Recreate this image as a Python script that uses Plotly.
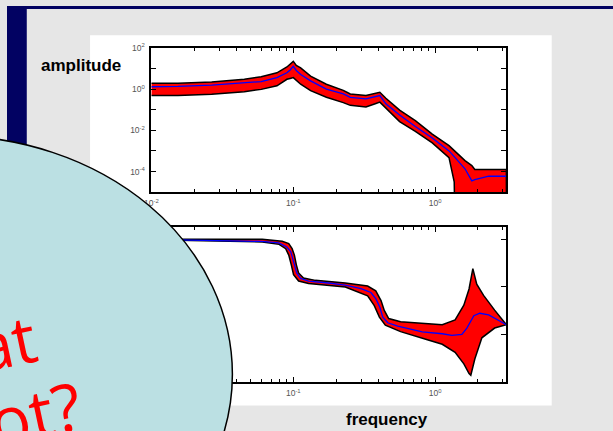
import plotly.graph_objects as go

W, H = 613, 431

# ---- amplitude response: mean and uncertainty envelope ----
amp_freq = [0.01, 0.0154, 0.0266, 0.0452, 0.0594, 0.0767, 0.0902, 0.095, 0.1, 0.105,
            0.1127, 0.1324, 0.171, 0.225, 0.252, 0.325, 0.382, 0.407, 0.449, 0.561,
            0.724, 0.953, 1.25, 1.31, 1.36, 1.38, 1.62, 1.81, 1.9, 2.03, 2.38, 3.17]
amp_mean = [1.3, 1.35, 1.55, 1.92, 2.32, 3.6, 6.2, 8.5, 12.8, 8.0,
            5.1, 2.5, 1.0, 0.59, 0.40, 0.336, 0.436, 0.486, 0.194, 0.055,
            0.0153, 0.00427, 0.001, 7.2e-4, 5.5e-4, 4.7e-4, 1.36e-4, 3.5e-5, 4.0e-5, 4.6e-5, 5.9e-5, 5.9e-5]
amp_upper = [1.92, 1.92, 2.24, 2.98, 4.0, 6.2, 11.9, 16.0, 22.2, 14.0,
             10.7, 4.3, 1.73, 0.87, 0.58, 0.49, 0.63, 0.70, 0.36, 0.095,
             0.0295, 0.0066, 0.0018, 1.3e-3, 1.05e-3, 9.5e-4, 3.4e-4, 1.95e-4, 1.25e-4, 1.25e-4, 1.25e-4, 1.25e-4]
amp_lower = [0.49, 0.49, 0.56, 0.75, 0.97, 1.45, 3.0, 3.3, 3.6, 2.6,
             1.73, 0.84, 0.40, 0.22, 0.163, 0.136, 0.2, 0.234, 0.113, 0.0264,
             0.0089, 0.00245, 4.7e-4, 1.1e-4, 3.2e-5, 1e-7, 1e-7, 1e-7, 1e-7, 1e-7, 1e-7, 1e-7]

# ---- phase response (degrees) ----
ph_freq = [0.01, 0.0356, 0.06, 0.079, 0.09, 0.096, 0.099, 0.1024, 0.1057, 0.1127,
           0.128, 0.177, 0.232, 0.30, 0.352, 0.382, 0.407, 0.427, 0.463, 0.544,
           0.67, 0.81, 1.12, 1.31, 1.54, 1.67, 1.87, 2.06, 2.38, 2.79, 3.17]
ph_mean = [-1, -5, -9.5, -16, -33, -53, -81, -108, -142, -165,
           -176, -184, -193, -208, -224, -251, -286, -327, -351, -365,
           -377, -389, -397, -404, -400, -373, -321, -311, -318, -339, -359]

ph_up_freq = [0.01, 0.0605, 0.0835, 0.0929, 0.0981, 0.1018, 0.1051, 0.109, 0.118, 0.143,
              0.2325, 0.334, 0.381, 0.415, 0.4375, 0.47, 0.57, 0.88, 1.12, 1.38,
              1.59, 1.73, 1.84, 1.96, 2.19, 2.62, 3.17]
ph_upper = [0, -1, -9, -19, -40, -67, -108, -142, -163, -173,
            -184, -197, -217, -258, -299, -333, -347, -356, -359, -339,
            -277, -209, -124, -189, -236, -298, -359]

ph_lo_freq = [0.01, 0.0605, 0.0794, 0.0884, 0.0929, 0.0968, 0.1004, 0.109, 0.128, 0.2325,
              0.334, 0.372, 0.404, 0.445, 0.57, 0.88, 1.12, 1.38, 1.59, 1.73,
              1.78, 1.90, 2.13, 2.62, 3.17]
ph_lower = [-3, -12, -22, -40, -67, -108, -149, -176, -186, -201,
            -238, -279, -327, -361, -388, -422, -441, -475, -523, -564,
            -571, -503, -414, -373, -359]

# ---- tick definitions ----
x_ticks = [0.01, 0.1, 1]
x_ticktext = ["10<sup>-2</sup>", "10<sup>-1</sup>", "10<sup>0</sup>"]
amp_ticks = [1e2, 1e1, 1e0, 1e-1, 1e-2, 1e-3, 1e-4]
amp_ticktext = ["10<sup>2</sup>", " ", "10<sup>0</sup>", " ", "10<sup>-2</sup>", " ", "10<sup>-4</sup>"]
ph_ticks = [0, -200, -400, -600]
ph_ticktext = ["0", "-200", "-400", "-600"]

minor_x = [m * 10.0 ** e for e in (-2, -1, 0) for m in range(2, 10) if m * 10.0 ** e < 3.16]


def px(x):
    return x / W


def py(y):
    return 1 - y / H


fig = go.Figure()

# envelope polygons (upper edge out, lower edge back)
fig.add_trace(go.Scatter(
    x=amp_freq + amp_freq[::-1], y=amp_upper + amp_lower[::-1],
    fill="toself", fillcolor="#ff0000", mode="lines",
    line=dict(color="black", width=1.5), xaxis="x", yaxis="y"))
fig.add_trace(go.Scatter(
    x=amp_freq, y=amp_mean, mode="lines",
    line=dict(color="#0000ff", width=1.3), xaxis="x", yaxis="y"))

fig.add_trace(go.Scatter(
    x=ph_up_freq + ph_lo_freq[::-1], y=ph_upper + ph_lower[::-1],
    fill="toself", fillcolor="#ff0000", mode="lines",
    line=dict(color="black", width=1.5), xaxis="x2", yaxis="y2"))
fig.add_trace(go.Scatter(
    x=ph_freq, y=ph_mean, mode="lines",
    line=dict(color="#0000ff", width=1.3), xaxis="x2", yaxis="y2"))

tick_font = dict(family="Arial, Liberation Sans", size=8.5, color="#555555")
common = dict(showline=True, linecolor="black", linewidth=1.5, mirror="ticks",
              ticks="inside", ticklen=5, tickwidth=1, tickcolor="black",
              showgrid=False, zeroline=False, tickfont=tick_font)

x_dom = [px(146), px(505)]
xaxis_common = dict(type="log", range=[-2, 0.5], tickmode="array",
                    tickvals=x_ticks, ticktext=x_ticktext,
                    minor=dict(tickmode="array", tickvals=minor_x, ticks="inside",
                               ticklen=3, tickcolor="black", showgrid=False),
                    ticklabelstandoff=2, **common)

fig.update_layout(
    width=W, height=H,
    margin=dict(l=0, r=0, t=0, b=0),
    paper_bgcolor="#e6e6e6", plot_bgcolor="white",
    showlegend=False, hovermode=False,
    xaxis=dict(domain=x_dom, anchor="y", **xaxis_common),
    yaxis=dict(domain=[py(191), py(43)], anchor="x", type="log", range=[-5, 2],
               tickmode="array", tickvals=amp_ticks, ticktext=amp_ticktext,
               ticklabelstandoff=3, **common),
    xaxis2=dict(domain=x_dom, anchor="y2", **xaxis_common),
    yaxis2=dict(domain=[py(386), py(227)], anchor="x2", range=[-600, 50],
                tickmode="array", tickvals=ph_ticks, ticktext=ph_ticktext,
                ticklabelstandoff=3, **common),
)

# slide background: navy frame, white panel, callout ellipse
fig.add_shape(type="rect", xref="paper", yref="paper", x0=0, x1=px(20), y0=0, y1=1,
              fillcolor="#020262", line=dict(width=0), layer="below")
fig.add_shape(type="rect", xref="paper", yref="paper", x0=0, x1=1, y0=py(3), y1=1,
              fillcolor="#020262", line=dict(width=0), layer="below")
fig.add_shape(type="rect", xref="paper", yref="paper", x0=px(84), x1=px(551),
              y0=py(410), y1=py(30), fillcolor="white", line=dict(width=0), layer="below")
fig.add_shape(type="circle", xref="paper", yref="paper",
              x0=px(-60 - 288), x1=px(228), y0=py(378 + 245), y1=py(378 - 245),
              fillcolor="#bbe0e3", line=dict(color="black", width=1.5), layer="above")

label_font = dict(family="Arial, Liberation Sans", size=17, color="black", weight="bold")
fig.add_annotation(text="amplitude", xref="paper", yref="paper", x=px(75), y=py(61),
                   xanchor="center", yanchor="middle", showarrow=False, font=label_font)
fig.add_annotation(text="frequency", xref="paper", yref="paper", x=px(384.5), y=py(424),
                   xanchor="center", yanchor="middle", showarrow=False, font=label_font)

callout_font = dict(family="Open Sans", size=66, color="#ff0000")
fig.add_annotation(text="What", xref="paper", yref="paper", x=px(-52), y=py(355),
                   xanchor="center", yanchor="middle", showarrow=False,
                   textangle=-12, font=callout_font)
fig.add_annotation(text="plot?", xref="paper", yref="paper", x=px(1), y=py(423),
                   xanchor="center", yanchor="middle", showarrow=False,
                   textangle=-12, font=callout_font)

fig.write_html("out.html")
